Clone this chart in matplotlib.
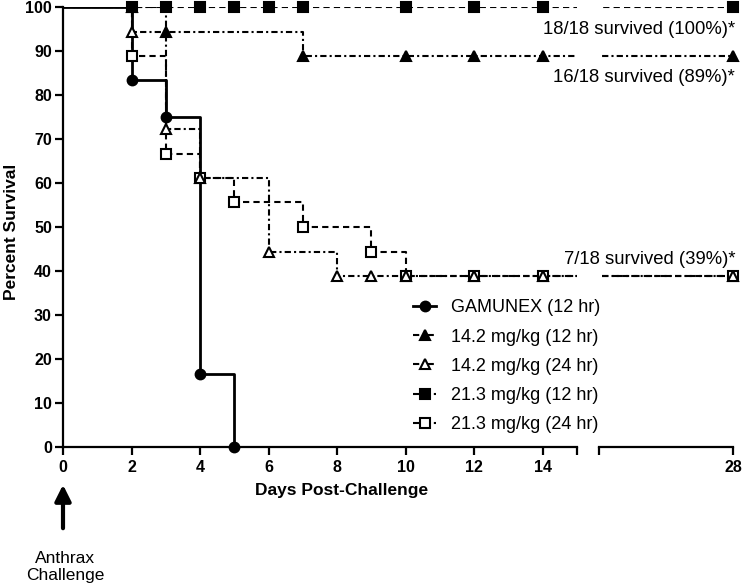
import numpy as np
import matplotlib
matplotlib.use("Agg")
import matplotlib.pyplot as plt
from matplotlib.lines import Line2D
from matplotlib.patches import FancyArrowPatch

plt.rcParams['font.family'] = ['Liberation Sans', 'DejaVu Sans']

# step curves: day of each drop and survival (%) after it
gam_days = [0, 2, 3, 4, 5]
gam_surv = [100, 83.3, 75.0, 16.7, 0]
gam_marks = [2, 3, 4, 5]

l12_days = [0, 3, 7, 28]
l12_surv = [100, 94.4, 88.9, 88.9]
l12_marks = [2, 3, 7, 10, 12, 14, 28]

l24_days = [0, 2, 3, 4, 6, 8, 28]
l24_surv = [100, 94.4, 72.2, 61.1, 44.4, 38.9, 38.9]
l24_marks = [2, 3, 4, 6, 8, 9, 10, 12, 14, 28]

h12_days = [0, 28]
h12_surv = [100, 100]
h12_marks = [2, 3, 4, 5, 6, 7, 10, 12, 14, 28]

h24_days = [0, 2, 3, 4, 5, 7, 9, 10, 28]
h24_surv = [100, 88.9, 66.7, 61.1, 55.6, 50.0, 44.4, 38.9, 38.9]
h24_marks = [2, 3, 4, 5, 7, 9, 10, 12, 14, 28]

labels = ["GAMUNEX (12 hr)", "14.2 mg/kg (12 hr)", "14.2 mg/kg (24 hr)",
          "21.3 mg/kg (12 hr)", "21.3 mg/kg (24 hr)"]
notes = ["18/18 survived (100%)*", "16/18 survived (89%)*", "7/18 survived (39%)*"]

DASH = (3, 2)
DASHDOT = (3, 1.5, 1, 1.5)

groups = [
    (gam_days, gam_surv, gam_marks, None, 'o', 'black', 2.0),
    (l12_days, l12_surv, l12_marks, DASHDOT, '^', 'black', 1.5),
    (h12_days, h12_surv, h12_marks, DASH, 's', 'black', 1.5),
    (h24_days, h24_surv, h24_marks, DASH, 's', 'white', 1.5),
    (l24_days, l24_surv, l24_marks, DASHDOT, '^', 'white', 1.5),
]


def step_value(days, surv, t):
    idx = np.searchsorted(days, t, side='right') - 1
    return np.array(surv)[idx]


W, H = 742, 588
fig = plt.figure(figsize=(W / 100, H / 100), dpi=100)
ax1 = fig.add_axes([63 / W, 1 - 447 / H, (577 - 63) / W, 440 / H])
ax2 = fig.add_axes([599 / W, 1 - 447 / H, (733 - 599) / W, 440 / H], sharey=ax1)

for ax, (lo, hi) in ((ax1, (0, 15)), (ax2, (24, 28))):
    for days, surv, marks, dash, mk, fc, lw in groups:
        ln, = ax.step(days, surv, where='post', color='black', lw=lw)
        if dash is not None:
            ln.set_dashes(dash)
        mx = np.array([m for m in marks if lo <= m <= hi])
        if len(mx) == 0:
            continue
        my = step_value(days, surv, mx)
        ax.plot(mx, my, ls='none', marker=mk, ms=7, mfc=fc, mec='black',
                mew=1.5, clip_on=False, zorder=5)
    ax.set_xlim(lo, hi)

ax1.set_ylim(0, 100)

ax1.set_xticks([0, 2, 4, 6, 8, 10, 12, 14, 15])
ax1.set_xticklabels(['0', '2', '4', '6', '8', '10', '12', '14', ''])
ax2.set_xticks([24, 28])
ax2.set_xticklabels(['', '28'])
ax1.set_yticks(np.arange(0, 101, 10))

for ax in (ax1, ax2):
    ax.spines['top'].set_visible(False)
    ax.spines['right'].set_visible(False)
    ax.spines['bottom'].set_linewidth(1.6)
    ax.tick_params(axis='x', width=1.6, length=6, labelsize=11.5, pad=3)
    for t in ax.get_xticklabels():
        t.set_fontweight('bold')
ax1.spines['left'].set_linewidth(1.6)
ax1.tick_params(axis='y', width=1.6, length=6, labelsize=11.5, pad=2)
for t in ax1.get_yticklabels():
    t.set_fontweight('bold')
ax2.spines['left'].set_visible(False)
ax2.tick_params(axis='y', left=False, labelleft=False)

fig.text(12 / W, 1 - 232 / H, "Percent Survival", rotation=90, ha='center',
         va='center', fontsize=12.5, fontweight='bold')
fig.text(342 / W, 1 - 491 / H, "Days Post-Challenge", ha='center',
         va='center', fontsize=12.5, fontweight='bold')

note_y = [30, 78, 260]
for txt, y in zip(notes, note_y):
    fig.text(735 / W, 1 - y / H, txt, ha='right', va='center', fontsize=13.3)

handles = []
for days, surv, marks, dash, mk, fc, lw in [groups[0], groups[1], groups[4], groups[2], groups[3]]:
    h = Line2D([], [], color='black', lw=lw, marker=mk, ms=7, mfc=fc,
               mec='black', mew=1.5)
    if dash is not None:
        h.set_dashes(dash)
    handles.append(h)
fig.legend(handles, labels, loc='upper left',
           bbox_to_anchor=(406 / W, 1 - 292 / H), frameon=False,
           fontsize=13, handlelength=1.25, handletextpad=0.85,
           labelspacing=0.68, borderaxespad=0)

fig.add_artist(FancyArrowPatch(
    (63 / W, 1 - 531 / H), (63 / W, 1 - 482 / H), transform=fig.transFigure,
    arrowstyle='-|>', mutation_scale=24, lw=3, color='black'))
fig.text(65 / W, 1 - 567 / H, "Anthrax\nChallenge", ha='center', va='center',
         fontsize=12.5, linespacing=1.1)

fig.savefig("out.png", dpi=100)
